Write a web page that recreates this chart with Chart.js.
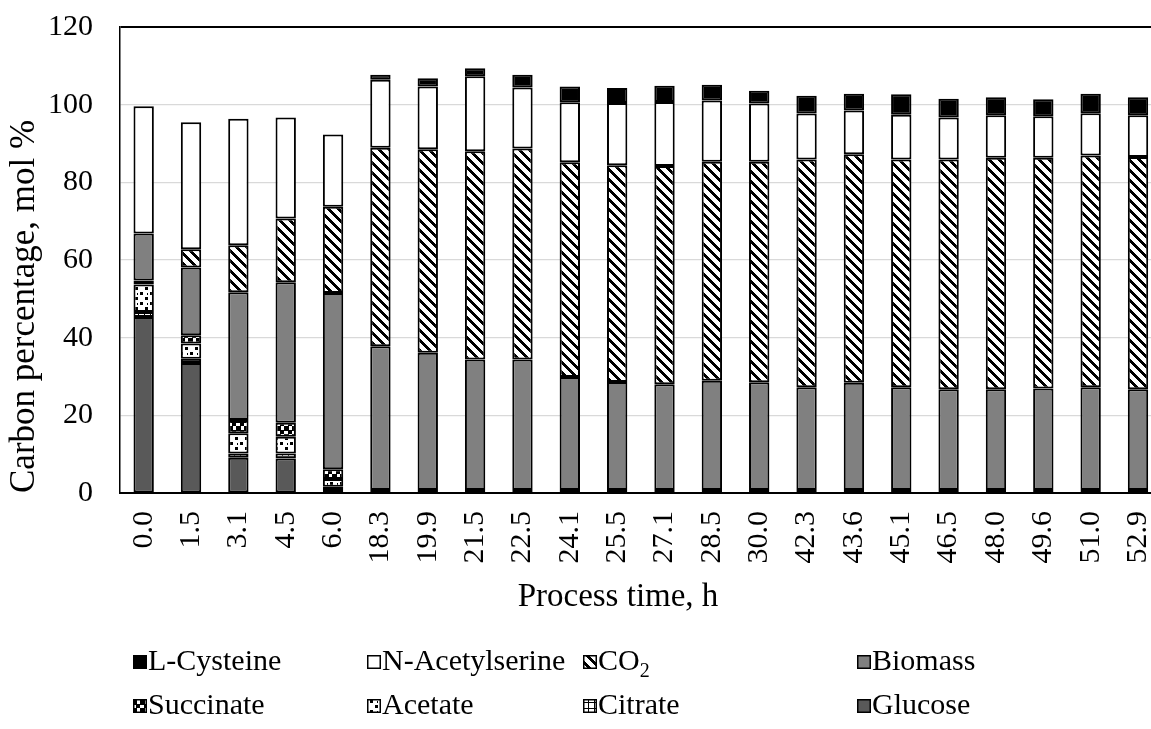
<!DOCTYPE html>
<html><head><meta charset="utf-8">
<script src="https://cdn.jsdelivr.net/npm/chart.js@4/dist/chart.umd.min.js"></script>
<style>
html,body{margin:0;padding:0;background:#fff;overflow:hidden;width:1151px;height:729px;position:relative}
#wrap{position:absolute;left:0;top:-18px;width:1192px;height:747px}
</style></head><body>
<div id="wrap"><canvas id="c" width="1192" height="747"></canvas></div>
<script>
const categories = ['0.0','1.5','3.1','4.5','6.0','18.3','19.9','21.5','22.5','24.1','25.5','27.1','28.5','30.0','42.3','43.6','45.1','46.5','48.0','49.6','51.0','52.9'];
const glucose   = [45.3,33.5,9.1,8.9,0.8,0.8,0.8,0.8,0.8,0.8,0.8,0.8,0.8,0.8,0.8,0.8,0.8,0.8,0.8,0.8,0.8,0.8];
const citrate   = [1.3,1.1,1.1,1.3,0.8,0,0,0,0,0,0,0,0,0,0,0,0,0,0,0,0,0];
const acetate   = [7.1,3.9,5.2,4.3,2.0,0,0,0,0,0,0,0,0,0,0,0,0,0,0,0,0,0];
const succinate = [1.0,2.1,3.4,3.6,2.5,0,0,0,0,0,0,0,0,0,0,0,0,0,0,0,0,0];
const biomass   = [12.1,17.5,32.9,36.2,45.4,37.0,35.3,33.6,33.6,29.1,27.8,27.2,28.1,27.7,26.4,27.6,26.4,25.9,25.9,26.1,26.4,25.9];
const co2       = [0,4.7,12.1,16.4,22.2,51.1,52.4,53.6,54.3,55.3,55.8,56.2,56.4,56.8,58.7,58.8,58.7,59.2,59.6,59.4,59.7,59.8];
const nAcetylserine = [32.8,32.7,32.6,26.0,18.6,17.5,16.2,19.3,15.7,15.4,16.0,16.5,15.8,15.0,11.8,11.3,11.5,10.8,11.0,10.7,10.9,10.8];
const lCysteine = [0,0,0,0,0,1.3,2.1,2.1,3.3,4.1,3.9,4.2,4.0,3.3,4.6,4.3,5.3,4.8,4.6,4.4,5.0,4.6];
const yTicks = {min:0, max:120, step:20};

const FONT = "'Liberation Serif','Times New Roman',serif";
const OFFSET_Y = 18; // canvas is shifted up by this amount

function makePattern(size, draw){
  const c = document.createElement('canvas');
  c.width = size; c.height = size;
  const g = c.getContext('2d');
  g.fillStyle = '#fff'; g.fillRect(0,0,size,size);
  g.fillStyle = '#000';
  draw(g, size);
  return document.getElementById('c').getContext('2d').createPattern(c,'repeat');
}
const pCO2 = makePattern(10,(g,s)=>{
  for(let y=0;y<s;y++) for(let x=0;x<s;x++){ if(((x-y)%s+s)%s<4) g.fillRect(x,y,1,1); }
});
const pSucc = makePattern(8,(g,s)=>{ g.fillRect(0,0,4,4); g.fillRect(4,4,4,4); g.fillRect(0,4,1,4); g.fillRect(4,0,4,1); });
const pAcet = makePattern(10,(g,s)=>{ g.fillRect(0,0,3,3); g.fillRect(5,5,3,3); g.fillRect(7,1,1,2); });
const pCitr = makePattern(6,(g,s)=>{ g.fillRect(0,0,s,1); g.fillRect(0,0,1,s); });

function ds(label, data, bg){
  return {label, data, backgroundColor:bg, borderColor:'#000', borderWidth:2, borderSkipped:false,
          barPercentage:0.43, categoryPercentage:1.0};
}
const datasets = [
  ds('Glucose', glucose, '#595959'),
  ds('Citrate', citrate, pCitr),
  ds('Acetate', acetate, pAcet),
  ds('Succinate', succinate, pSucc),
  ds('Biomass', biomass, '#808080'),
  ds('CO2', co2, pCO2),
  ds('N-Acetylserine', nAcetylserine, '#ffffff'),
  ds('L-Cysteine', lCysteine, '#000000')
];

const extrasPlugin = {
  id:'extras',
  afterDraw(chart){
    const ctx = chart.ctx;
    ctx.save();
    ctx.translate(0, OFFSET_Y);
    // x-axis title
    ctx.fillStyle = '#000';
    ctx.font = '33px ' + FONT;
    ctx.textAlign = 'center'; ctx.textBaseline = 'middle';
    ctx.fillText('Process time, h', 618, 597);
    // legend
    const items = chart.data.datasets.slice().reverse();
    const cols = [133, 367, 583, 857];
    const rows = [662, 706];
    items.forEach((d,i)=>{
      const x = cols[i%4], y = rows[Math.floor(i/4)];
      ctx.fillStyle = d.backgroundColor;
      ctx.fillRect(x, y-7, 14, 14);
      ctx.strokeStyle = '#000'; ctx.lineWidth = 1.5;
      ctx.strokeRect(x+0.75, y-6.25, 12.5, 12.5);
      ctx.fillStyle = '#000';
      ctx.textBaseline = 'middle'; ctx.textAlign='left';
      ctx.font = '30px ' + FONT;
      if(d.label === 'CO2'){
        ctx.fillText('CO', x+15, y);
        const w = ctx.measureText('CO').width;
        ctx.font = '20px ' + FONT;
        ctx.fillText('2', x+15+w, y+10);
      } else {
        ctx.fillText(d.label, x+15, y);
      }
    });
    ctx.restore();
  }
};

new Chart(document.getElementById('c'), {
  type:'bar',
  data:{labels:categories, datasets},
  options:{
    responsive:false, animation:false,
    layout:{padding:{top:8,right:0,bottom:114,left:0}},
    plugins:{legend:{display:false}, tooltip:{enabled:false}},
    scales:{
      x:{stacked:true,
         grid:{display:false, drawTicks:false},
         border:{display:true, color:'#000', width:2},
         ticks:{color:'#000', font:{family:FONT,size:30}, minRotation:90, maxRotation:90, padding:18, autoSkip:false},
         afterFit(s){ s.height = 122; }
      },
      y:{stacked:true, min:yTicks.min, max:yTicks.max,
         grid:{drawTicks:false, color:(c)=> c.tick && c.tick.value===120 ? '#000' : '#d9d9d9', lineWidth:(c)=> c.tick && c.tick.value===120 ? 2 : 1.2},
         border:{display:true, color:'#000', width:1.5},
         ticks:{stepSize:yTicks.step, color:'#000', font:{family:FONT,size:30}, padding:27},
         title:{display:true, align:'start', text:'Carbon percentage, mol %', color:'#000', font:{family:FONT,size:35}, padding:{top:4,bottom:0}},
         afterFit(s){ s.width = 120; }
      }
    }
  },
  plugins:[extrasPlugin]
});
</script>
</body></html>
